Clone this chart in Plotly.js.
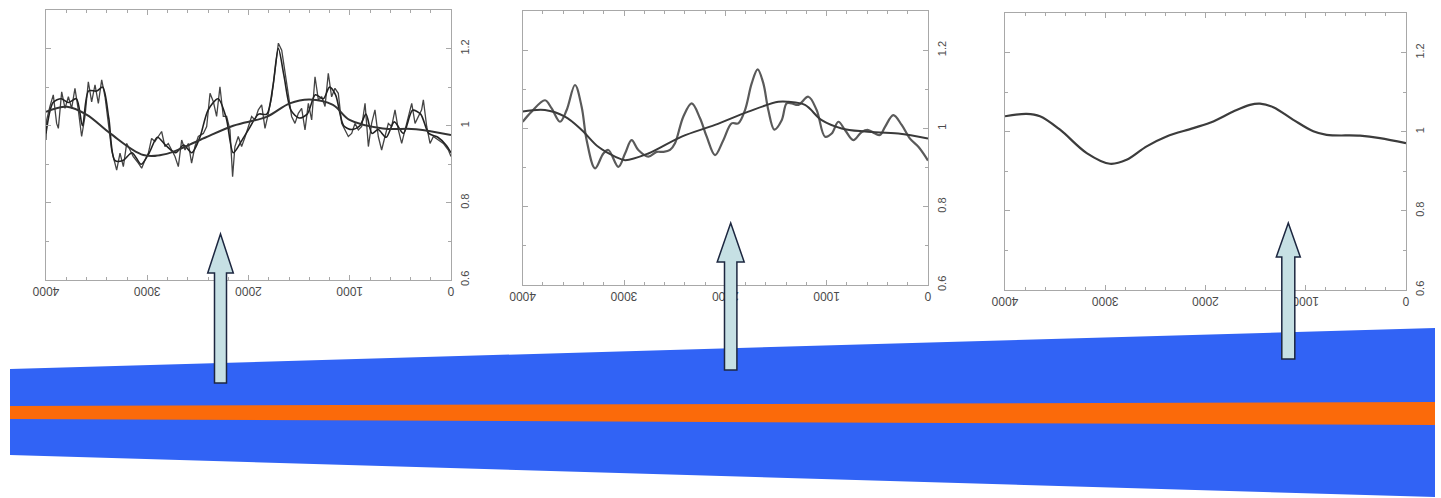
<!DOCTYPE html>
<html>
<head>
<meta charset="utf-8">
<script src="https://cdn.plot.ly/plotly-3.0.1.min.js"></script>
<style>
html,body{margin:0;padding:0;background:#fff;}
#chart{width:1441px;height:498px;}
</style>
</head>
<body>
<div id="chart"></div>
<script>
// ---------- data (years BP, index values) ----------
const p1RawYears = [4000,3993,3961,3928,3895,3878,3845,3812,3779,3747,3714,3681,3648,3615,3582,3549,3516,3483,3450,3417,3384,3352,3302,3269,3236,3203,3170,3138,3088,3055,3022,2989,2957,2924,2891,2858,2825,2792,2759,2726,2693,2660,2627,2594,2562,2529,2496,2446,2413,2380,2347,2315,2282,2249,2216,2183,2157,2134,2101,2068,2035,
  2002,1969,1936,1903,1870,1837,1804,1771,1738,1705,1672,1639,1607,1574,1541,1508,1475,1442,1409,1376,1343,1310,1277,1244,1212,1179,1146,1113,1080,1047,1014,981,948,915,882,849,816,784,751,718,685,652,619,586,553,520,487,454,421,388,355,322,290,273,240,207,174,125,76,26,0];
const p1RawValues = [0.963,1.015,1.050,1.080,1.006,0.993,1.088,1.045,1.075,1.045,1.097,1.041,0.972,1.024,1.114,1.062,1.106,1.058,1.119,1.075,1.006,0.937,0.885,0.929,0.894,0.954,0.937,0.920,0.903,0.890,0.911,0.929,0.967,0.959,0.972,0.985,0.946,0.954,0.937,0.920,0.894,0.963,0.937,0.954,0.903,0.946,0.972,0.980,0.998,1.084,1.062,1.024,1.101,1.024,1.024,0.989,0.868,0.946,0.972,0.946,0.970,
  0.998,1.024,1.015,1.041,1.054,0.993,1.032,1.075,1.144,1.214,1.196,1.136,1.075,1.024,1.006,1.032,1.045,0.989,1.058,1.015,1.127,1.067,1.075,1.050,1.136,1.075,1.097,1.084,1.006,0.989,0.972,0.980,1.006,0.989,0.998,1.058,0.946,1.006,1.041,0.972,0.937,0.972,1.006,0.998,1.041,0.989,0.954,0.989,1.024,1.058,1.006,1.024,1.041,1.067,0.998,0.954,0.972,0.963,0.954,0.937,0.920];

const p1FiltYears = [4000,3930,3850,3780,3700,3640,3580,3500,3440,3380,3320,3240,3150,3060,2980,2900,2820,2720,2640,2560,2480,2400,2300,2220,2150,2070,2000,1900,1820,1760,1705,1650,1580,1500,1420,1340,1260,1200,1140,1060,980,900,840,780,720,640,560,470,380,300,220,130,50,0];
const p1FiltValues = [0.98,1.06,1.07,1.06,1.07,1.00,1.09,1.09,1.10,1.02,0.91,0.91,0.93,0.90,0.93,0.97,0.95,0.93,0.95,0.93,0.97,1.04,1.07,1.02,0.93,0.96,0.99,1.03,1.03,1.10,1.20,1.13,1.04,1.02,1.03,1.08,1.07,1.10,1.08,1.00,0.99,1.00,1.03,0.98,0.99,0.97,1.01,0.98,1.04,1.03,0.98,0.97,0.95,0.93];

const p1SmoothYears = [4000,3793,3596,3366,3038,2808,2479,2151,1823,1593,1396,1166,1002,673,345,0];
const p1SmoothValues = [1.036,1.049,1.028,0.980,0.924,0.927,0.963,1.000,1.023,1.058,1.068,1.054,1.015,0.993,0.991,0.976];

const p2WiggleYears = [4000,3912,3780,3714,3632,3566,3484,3418,3369,3286,3204,3155,3056,2990,2925,2859,2760,2678,2612,2546,2497,2415,2332,2250,2184,2102,2020,1938,1872,1806,1740,1681,1625,1576,1516,1444,1395,1345,1279,1181,1099,1016,950,885,819,737,654,589,523,474,424,342,260,178,95,0];
const p2WiggleValues = [1.017,1.043,1.072,1.051,1.017,1.047,1.111,1.055,0.970,0.898,0.936,0.945,0.902,0.936,0.970,0.945,0.928,0.940,0.940,0.945,0.962,1.030,1.064,1.026,0.979,0.932,0.970,1.013,1.013,1.047,1.115,1.151,1.115,1.047,0.997,1.021,1.064,1.064,1.060,1.081,1.047,0.979,0.987,1.017,0.996,0.970,0.991,0.996,0.987,0.983,1.004,1.034,1.009,0.974,0.953,0.918];

const p2SmoothYears = [4000,3780,3583,3418,3254,3089,2990,2760,2431,2102,1773,1477,1378,1214,1049,852,621,293,0];
const p2SmoothValues = [1.043,1.047,1.030,0.996,0.953,0.928,0.919,0.936,0.979,1.009,1.043,1.068,1.068,1.060,1.021,1.000,0.992,0.987,0.974];

const p3Years = [4000,3784,3651,3451,3185,2953,2787,2587,2388,2121,1922,1723,1556,1457,1324,1124,925,792,459,260,0];
const p3Values = [1.039,1.045,1.039,1.005,0.946,0.919,0.929,0.963,0.988,1.009,1.026,1.051,1.068,1.071,1.062,1.030,1.001,0.992,0.990,0.984,0.971];

const xTickVals = [0,1000,2000,3000,4000];
const xTickText = ['0','1000','2000','3000','4000'];
const yTickVals = [0.6,0.8,1,1.2];
const yTickText = ['0.6','0.8','1','1.2'];

// ---------- decorative band and arrows (canvas pixels) ----------
const bandX = [10, 1435];
const blueTop = [369, 328];
const blueBottom = [455, 497];
const orangeTop = [406, 402];
const orangeBottom = [419, 425];
// arrow: tip x, tip y, head base y, head half width, shaft half width, bottom y
const arrowTipX = [220.5, 730.7, 1288.3];
const arrowTipY = [234, 223, 223];
const arrowHeadBase = [273, 262, 257];
const arrowHeadHalf = [12.8, 13.5, 12];
const arrowShaftHalf = [6, 6.2, 6.5];
const arrowBottom = [383, 370, 359];

// ---------- styles ----------
const frameColor = '#a8a8a8';
const xTickFont = {family:'Liberation Sans, Arial, sans-serif', size:12, color:'#4a4a4a'};
const yTickFont = {family:'Liberation Sans, Arial, sans-serif', size:11, color:'#4a4a4a'};

function xAxis(domain, anchor){
  return {domain:domain, anchor:anchor, range:[4000,0], showgrid:false, zeroline:false,
    showline:true, linecolor:frameColor, linewidth:1, mirror:'ticks',
    ticks:'inside', ticklen:5, tickcolor:frameColor, tickvals:xTickVals, ticktext:xTickText,
    tickangle:180, tickfont:xTickFont, ticklabelstandoff:4,
    minor:{dtick:200, tick0:0, ticks:'inside', ticklen:3, tickcolor:frameColor, showgrid:false}};
}
function yAxis(domain, anchor){
  return {domain:domain, anchor:anchor, side:'right', range:[0.6,1.3], showgrid:false, zeroline:false,
    showline:true, linecolor:frameColor, linewidth:1, mirror:'ticks',
    ticks:'inside', ticklen:5, tickcolor:frameColor, tickvals:yTickVals, ticktext:yTickText,
    tickangle:-90, tickfont:yTickFont, ticklabelstandoff:4,
    minor:{dtick:0.1, tick0:0.6, ticks:'inside', ticklen:3, tickcolor:frameColor, showgrid:false}};
}

const traces = [
  {x:p1RawYears, y:p1RawValues, xaxis:'x', yaxis:'y', mode:'lines', line:{color:'#444', width:1.3}, hoverinfo:'skip'},
  {x:p1FiltYears, y:p1FiltValues, xaxis:'x', yaxis:'y', mode:'lines', line:{color:'#222', width:1.6, shape:'spline', smoothing:0.8}, hoverinfo:'skip'},
  {x:p1SmoothYears, y:p1SmoothValues, xaxis:'x', yaxis:'y', mode:'lines', line:{color:'#333', width:2, shape:'spline'}, hoverinfo:'skip'},
  {x:p2WiggleYears, y:p2WiggleValues, xaxis:'x2', yaxis:'y2', mode:'lines', line:{color:'#5a5a5a', width:2.2, shape:'spline'}, hoverinfo:'skip'},
  {x:p2SmoothYears, y:p2SmoothValues, xaxis:'x2', yaxis:'y2', mode:'lines', line:{color:'#3a3a3a', width:2, shape:'spline'}, hoverinfo:'skip'},
  {x:p3Years, y:p3Values, xaxis:'x3', yaxis:'y3', mode:'lines', line:{color:'#3c3c3c', width:2.2, shape:'spline'}, hoverinfo:'skip'}
];

const shapes = [];
// blue wedge
shapes.push({type:'path', xref:'x4', yref:'y4', layer:'below', line:{width:0},
  fillcolor:'#3163f5',
  path:`M ${bandX[0]},${blueTop[0]} L ${bandX[1]},${blueTop[1]} L ${bandX[1]},${blueBottom[1]} L ${bandX[0]},${blueBottom[0]} Z`});
// orange band
shapes.push({type:'path', xref:'x4', yref:'y4', layer:'below', line:{width:0},
  fillcolor:'#fb6a0a',
  path:`M ${bandX[0]},${orangeTop[0]} L ${bandX[1]},${orangeTop[1]} L ${bandX[1]},${orangeBottom[1]} L ${bandX[0]},${orangeBottom[0]} Z`});
// arrows
for (let i=0;i<arrowTipX.length;i++){
  const cx=arrowTipX[i], ty=arrowTipY[i], hb=arrowHeadBase[i], hh=arrowHeadHalf[i], sh=arrowShaftHalf[i], by=arrowBottom[i];
  shapes.push({type:'path', xref:'x4', yref:'y4', layer:'above',
    line:{color:'#1d2740', width:1.5}, fillcolor:'#c6e0e4',
    path:`M ${cx},${ty} L ${cx+hh},${hb} L ${cx+sh},${hb} L ${cx+sh},${by} L ${cx-sh},${by} L ${cx-sh},${hb} L ${cx-hh},${hb} Z`});
}

const W=1441, H=498;
const layout = {
  width:W, height:H, margin:{l:0,r:0,t:0,b:0}, showlegend:false,
  paper_bgcolor:'#ffffff', plot_bgcolor:'rgba(0,0,0,0)',
  xaxis: xAxis([46/W, 451/W], 'y'),
  yaxis: yAxis([1-280/H, 1-10/H], 'x'),
  xaxis2: xAxis([522.7/W, 928/W], 'y2'),
  yaxis2: yAxis([1-285/H, 1-11/H], 'x2'),
  xaxis3: xAxis([1005/W, 1406/W], 'y3'),
  yaxis3: yAxis([1-290/H, 1-13/H], 'x3'),
  xaxis4: {domain:[0,1], anchor:'y4', range:[0,W], visible:false, fixedrange:true},
  yaxis4: {domain:[0,1], anchor:'x4', range:[H,0], visible:false, fixedrange:true},
  shapes: shapes
};
// invisible trace to activate the overlay axes used by the decorative shapes
traces.push({x:[0], y:[0], xaxis:'x4', yaxis:'y4', mode:'markers', marker:{opacity:0}, hoverinfo:'skip'});

Plotly.newPlot('chart', traces, layout, {staticPlot:true, displayModeBar:false});
</script>
</body>
</html>
